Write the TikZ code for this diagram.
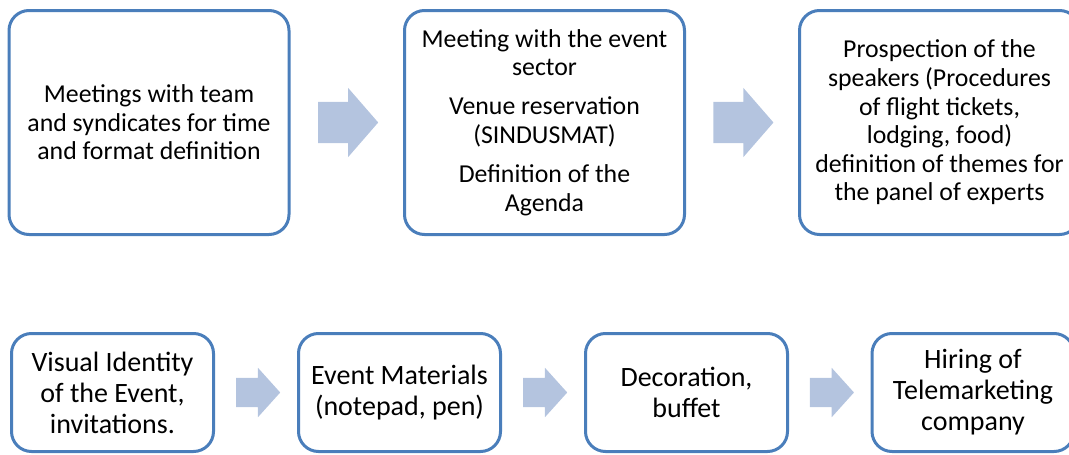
\documentclass[tikz,border=0pt]{standalone}
\usepackage{fontspec}
\setmainfont{Carlito}
\usetikzlibrary{shapes.arrows}
\definecolor{boxblue}{HTML}{4A7EBB}
\definecolor{arrowblue}{HTML}{B4C4DF}
\tikzset{
  stepbox/.style={draw=boxblue, line width=3pt, rounded corners=20pt, fill=white, align=center, inner sep=0pt},
  topbox/.style={stepbox, minimum width=280pt, minimum height=224pt, font=\fontsize{25.8}{28.6}\selectfont},
  lowbox/.style={stepbox, minimum width=202pt, minimum height=118pt, font=\fontsize{28}{31}\selectfont},
  toparrow/.style={single arrow, fill=arrowblue, draw=none, anchor=tail, xshift=-28.75pt, inner xsep=0pt, inner ysep=20.5pt, single arrow head extend=14pt, minimum height=60pt, single arrow tip angle=98},
  lowarrow/.style={single arrow, fill=arrowblue, draw=none, anchor=tail, xshift=-20pt, inner xsep=0pt, inner ysep=14.5pt, single arrow head extend=10pt, minimum height=44pt, single arrow tip angle=96}
}
\begin{document}
\begin{tikzpicture}[x=1pt, y=-1pt]
\useasboundingbox (0, 0) rectangle (1069, 455);

% First row of steps
\node[topbox] (meet) at (149, 122.5) {Meetings with team\\ and syndicates for time\\ and format definition};
\node[topbox] (venue) at (544.5, 122.5) {Meeting with the event\\ sector\\[10.4pt] Venue reservation\\ (SINDUSMAT)\\[10.4pt] Definition of the\\ Agenda};
\node[topbox] (speak) at (939.5, 122.5) {Prospection of the\\ speakers (Procedures\\ of flight tickets,\\ lodging, food)\\ definition of themes for\\ the panel of experts};

% Second row of steps
\node[lowbox] (ident) at (112.5, 392.5) {Visual Identity\\ of the Event,\\ invitations.};
\node[lowbox] (mater) at (399.5, 392.5) {Event Materials\\ (notepad, pen)};
\node[lowbox] (decor) at (686.5, 392.5) {Decoration,\\ buffet};
\node[lowbox] (hire) at (973, 392.5) {Hiring of\\ Telemarketing\\ company};

% Arrows between the steps
\path (meet) -- (venue) node[midway, toparrow] (a1) {};
\path (venue) -- (speak) node[midway, toparrow] (a2) {};
\path (ident) -- (mater) node[midway, lowarrow] (a3) {};
\path (mater) -- (decor) node[midway, lowarrow] (a4) {};
\path (decor) -- (hire) node[midway, lowarrow] (a5) {};
\end{tikzpicture}
\end{document}
